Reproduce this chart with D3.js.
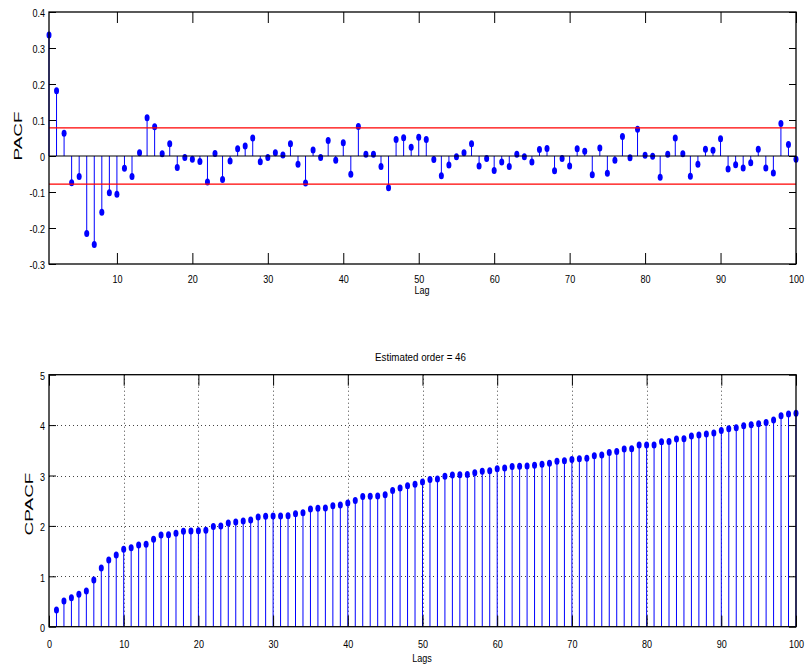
<!DOCTYPE html>
<html>
<head>
<meta charset="utf-8">
<script src="https://cdn.jsdelivr.net/npm/d3@7"></script>
<style>
  html, body { margin: 0; padding: 0; background: #fff; }
  svg { display: block; }
  text { font-family: "Liberation Sans", Arial, Helvetica, sans-serif; fill: #000; }
</style>
</head>
<body>
<svg id="fig" width="805" height="672"></svg>
<script>
// Partial autocorrelation, lags 1..100
const lags = d3.range(1, 101);
const pacf = [
  0.336, 0.181, 0.063, -0.074, -0.057, -0.215, -0.246, -0.156, -0.102, -0.106,
  -0.034, -0.057, 0.009, 0.106, 0.081, 0.006, 0.034, -0.032, -0.004, -0.009,
  -0.015, -0.072, 0.007, -0.065, -0.014, 0.020, 0.028, 0.050, -0.016, -0.004,
  0.009, 0.003, 0.034, -0.023, -0.075, 0.017, -0.004, 0.043, -0.012, 0.037,
  -0.051, 0.082, 0.005, 0.005, -0.029, -0.088, 0.046, 0.051, 0.024, 0.052,
  0.046, -0.010, -0.055, -0.025, -0.002, 0.009, 0.034, -0.028, -0.007, -0.040,
  -0.017, -0.029, 0.005, -0.002, -0.017, 0.018, 0.021, -0.041, -0.007, -0.028,
  0.020, 0.013, -0.052, 0.022, -0.048, -0.012, 0.054, -0.005, 0.074, 0.002,
  -0.001, -0.059, 0.005, 0.050, 0.006, -0.056, -0.023, 0.019, 0.016, 0.048,
  -0.036, -0.024, -0.033, -0.019, 0.019, -0.033, -0.047, 0.090, 0.032, -0.009
];

// Cumulative absolute PACF, lags 1..100
const cpacf = [
  0.330, 0.510, 0.575, 0.645, 0.710, 0.925, 1.165, 1.325, 1.425, 1.535,
  1.565, 1.620, 1.635, 1.735, 1.820, 1.822, 1.855, 1.892, 1.898, 1.905,
  1.915, 1.990, 1.997, 2.060, 2.077, 2.097, 2.118, 2.176, 2.189, 2.195,
  2.198, 2.203, 2.242, 2.262, 2.335, 2.350, 2.355, 2.400, 2.414, 2.452,
  2.505, 2.585, 2.589, 2.594, 2.618, 2.700, 2.752, 2.798, 2.824, 2.872,
  2.920, 2.932, 2.985, 3.010, 3.015, 3.022, 3.056, 3.085, 3.092, 3.135,
  3.148, 3.180, 3.186, 3.190, 3.205, 3.222, 3.242, 3.285, 3.293, 3.315,
  3.330, 3.342, 3.393, 3.408, 3.458, 3.475, 3.525, 3.532, 3.603, 3.605,
  3.607, 3.670, 3.677, 3.724, 3.730, 3.783, 3.803, 3.823, 3.843, 3.895,
  3.929, 3.948, 3.985, 4.006, 4.027, 4.050, 4.100, 4.187, 4.220, 4.233
];

const confBound = 0.078;          // significance band for the PACF
const estimatedOrder = 46;

const pacfYTicks = [-0.3, -0.2, -0.1, 0, 0.1, 0.2, 0.3, 0.4];
const pacfYTickLabels = ["-0.3", "-0.2", "-0.1", "0", "0.1", "0.2", "0.3", "0.4"];
const pacfXTicks = [10, 20, 30, 40, 50, 60, 70, 80, 90, 100];
const cpacfXTicks = [0, 10, 20, 30, 40, 50, 60, 70, 80, 90, 100];
const cpacfYTicks = [0, 1, 2, 3, 4, 5];
const cpacfYTickLabels = ["0", "1", "2", "3", "4", "5"];

const svg = d3.select("#fig");
svg.append("rect").attr("width", 805).attr("height", 672).attr("fill", "#fff");

const BLUE = "#0000ff";
const TICK_FONT = 11.6;
const SQUEEZE = 0.78;

function drawPanel(cfg) {
  const x = d3.scaleLinear().domain(cfg.xDomain).range([cfg.left, cfg.right]);
  const y = d3.scaleLinear().domain(cfg.yDomain).range([cfg.bottom, cfg.top]);
  const g = svg.append("g");

  // dotted grid
  if (cfg.grid) {
    const grid = g.append("g").attr("stroke", "#444").attr("stroke-width", 1)
      .attr("stroke-dasharray", "1,3").attr("fill", "none");
    cfg.xTicks.filter(t => t > cfg.xDomain[0] && t < cfg.xDomain[1]).forEach(t => {
      grid.append("line").attr("x1", Math.round(x(t)) + 0.5).attr("x2", Math.round(x(t)) + 0.5)
        .attr("y1", cfg.top).attr("y2", cfg.bottom);
    });
    cfg.yTicks.filter(t => t > cfg.yDomain[0] && t < cfg.yDomain[1]).forEach(t => {
      grid.append("line").attr("y1", Math.round(y(t)) + 0.5).attr("y2", Math.round(y(t)) + 0.5)
        .attr("x1", cfg.left).attr("x2", cfg.right);
    });
  }

  // stems
  g.append("g").selectAll("line").data(cfg.values).join("line")
    .attr("x1", (d, i) => x(lags[i])).attr("x2", (d, i) => x(lags[i]))
    .attr("y1", y(0)).attr("y2", d => y(d))
    .attr("stroke", BLUE).attr("stroke-width", 1);

  // stem heads
  g.append("g").selectAll("ellipse").data(cfg.values).join("ellipse")
    .attr("cx", (d, i) => x(lags[i])).attr("cy", d => y(d))
    .attr("rx", 2.5).attr("ry", 3.5).attr("fill", BLUE);

  if (cfg.extra) cfg.extra(g, x, y);

  // axes with inward ticks on all four sides
  const axB = g.append("g").attr("transform", `translate(0,${cfg.bottom})`)
    .call(d3.axisBottom(x).tickValues(cfg.xTicks).tickSizeInner(-11).tickSizeOuter(0).tickFormat(d => String(d)));
  const axT = g.append("g").attr("transform", `translate(0,${cfg.top})`)
    .call(d3.axisTop(x).tickValues(cfg.xTicks).tickSizeInner(-11).tickSizeOuter(0).tickFormat(""));
  const axL = g.append("g").attr("transform", `translate(${cfg.left},0)`)
    .call(d3.axisLeft(y).tickValues(cfg.yTicks).tickSizeInner(-7).tickSizeOuter(0)
      .tickFormat((d, i) => cfg.yTickLabels[i]));
  const axR = g.append("g").attr("transform", `translate(${cfg.right},0)`)
    .call(d3.axisRight(y).tickValues(cfg.yTicks).tickSizeInner(-7).tickSizeOuter(0).tickFormat(""));
  [axB, axT, axL, axR].forEach(a => {
    a.select(".domain").remove();
    a.attr("font-family", null).attr("font-size", null);
  });

  axB.selectAll("text")
    .attr("y", 0).attr("dy", null)
    .attr("font-size", TICK_FONT)
    .attr("transform", `translate(0,${cfg.xLabelDrop}) scale(${SQUEEZE},1)`);
  axL.selectAll("text")
    .attr("x", 0).attr("dy", "0.42em")
    .attr("font-size", TICK_FONT)
    .attr("transform", `translate(-4,0) scale(${SQUEEZE},1)`);

  // box
  g.append("rect").attr("x", cfg.left).attr("y", cfg.top)
    .attr("width", cfg.right - cfg.left).attr("height", cfg.bottom - cfg.top)
    .attr("fill", "none").attr("stroke", "#000").attr("stroke-width", 1.3);

  // axis titles
  svg.append("text")
    .attr("transform", `translate(${cfg.xTitlePos[0]},${cfg.xTitlePos[1]}) scale(${SQUEEZE},1)`)
    .attr("text-anchor", "middle").attr("font-size", TICK_FONT).text(cfg.xTitle);
  svg.append("text")
    .attr("transform", `translate(${cfg.yTitlePos[0]},${cfg.yTitlePos[1]}) rotate(-90) scale(1,0.62)`)
    .attr("text-anchor", "middle").attr("dy", "0.36em").attr("font-size", 19).text(cfg.yTitle);
}

// Upper panel: PACF with confidence band
drawPanel({
  left: 49, right: 796, top: 12, bottom: 264,
  xDomain: [1, 100], yDomain: [-0.3, 0.4],
  xTicks: pacfXTicks, yTicks: pacfYTicks, yTickLabels: pacfYTickLabels,
  values: pacf, grid: false, xLabelDrop: 19,
  xTitle: "Lag", xTitlePos: [422, 294],
  yTitle: "PACF", yTitlePos: [17.5, 136],
  extra: (g, x, y) => {
    g.append("line").attr("x1", x(1)).attr("x2", x(100))
      .attr("y1", y(0)).attr("y2", y(0)).attr("stroke", "#000").attr("stroke-width", 1);
    [confBound, -confBound].forEach(b => {
      g.append("line").attr("x1", x(1)).attr("x2", x(100))
        .attr("y1", y(b)).attr("y2", y(b)).attr("stroke", "#ff0000").attr("stroke-width", 1.3);
    });
  }
});

// Lower panel: cumulative PACF
drawPanel({
  left: 49, right: 796, top: 374.7, bottom: 626.7,
  xDomain: [0, 100], yDomain: [0, 5],
  xTicks: cpacfXTicks, yTicks: cpacfYTicks, yTickLabels: cpacfYTickLabels,
  values: cpacf, grid: true, xLabelDrop: 21,
  xTitle: "Lags", xTitlePos: [422, 662],
  yTitle: "CPACF", yTitlePos: [29.2, 504]
});

svg.append("text")
  .attr("transform", "translate(420.5,360.7) scale(0.93,1)")
  .attr("text-anchor", "middle").attr("font-size", 10.5)
  .text(`Estimated order = ${estimatedOrder}`);
</script>
</body>
</html>
